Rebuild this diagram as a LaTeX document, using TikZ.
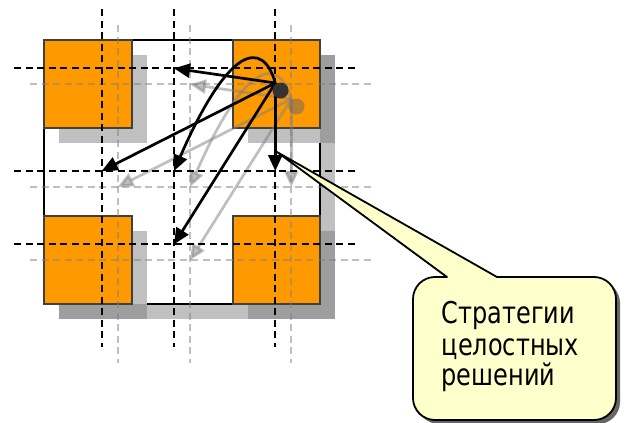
\documentclass[tikz,border=0pt]{standalone}
\usepackage{fontspec}
\usepackage{graphicx}
\newfontfamily\calfont{DejaVu Sans}
\usetikzlibrary{arrows.meta}
\definecolor{sqorange}{HTML}{FF9900}
\definecolor{sqedge}{HTML}{404040}
\definecolor{callfill}{HTML}{FFFFCC}
\definecolor{shlight}{HTML}{C0C0C0}
\definecolor{shdark}{HTML}{9E9E9E}
\tikzset{
  gridline/.style={line width=2pt, dash pattern=on 7pt off 4.5pt},
  conn/.style={line width=2.7pt, -{Triangle[length=16pt,width=14pt]}},
  sq/.style={fill=sqorange, draw=sqedge, line width=2pt, minimum width=87.5pt, minimum height=88pt, anchor=north west, inner sep=0pt},
  calltext/.style={anchor=base west, inner sep=0pt, font=\calfont\fontsize{24}{29}\selectfont},
}
\newcommand\callline[1]{\scalebox{1}[1.25]{#1}}
% #1 name prefix, #2 shift, #3 layer style, #4 dot colour
\newcommand\planlayer[4]{%
\begin{scope}[shift={(#2)}, #3]
  \coordinate (#1s) at (275.3,83);
  \coordinate (#1a) at (174,68.3);
  \coordinate (#1b) at (101.7,171);
  \coordinate (#1c) at (174,171);
  \coordinate (#1d) at (174,244.3);
  \coordinate (#1e) at (275.3,171);
  % dashed grid
  \foreach \gx in {101.7,174,275.3} \draw[gridline] (\gx,9) -- (\gx,347);
  \foreach \gy in {68.3,171,244.3} \draw[gridline] (14,\gy) -- (358,\gy);
  % arrows
  \draw[conn] (#1s) -- (#1a);
  \draw[conn] (#1s) -- (#1b);
  \draw[conn] (#1s) .. controls +(-13,-45) and +(54,-124) .. (#1c);
  \draw[conn] (#1s) -- (#1d);
  \draw[conn] (#1s) -- (#1e);
  \fill[#4] (280.5,90.5) circle[radius=8];
\end{scope}}
\begin{document}
\begin{tikzpicture}[x=1pt,y=-1pt]
\useasboundingbox (0,0) rectangle (627,423);
% frame and shadows
\fill[shlight] (59,55) rectangle (335,319);
\node[draw=black, fill=white, line width=1.6pt, minimum width=276pt, minimum height=264pt, anchor=north west, inner sep=0pt] (frame) at (43,39) {};
\fill[shlight] (59,55) rectangle (147,143);
\fill[shlight] (248,55) rectangle (335,143);
\fill[shlight] (59,231) rectangle (147,319);
\fill[shlight] (248,231) rectangle (335,319);
\fill[shdark] (319.8,55) rectangle (335,143);
\fill[shdark] (59,303.8) rectangle (147,319);
\fill[shdark] (319.8,231) rectangle (335,319);
\fill[shdark] (248,303.8) rectangle (319.8,319);
\node[sq] (tl) at (43,39) {};
\node[sq] (tr) at (231.7,39) {};
\node[sq] (bl) at (43,215) {};
\node[sq] (br) at (231.7,215) {};
% shadow copy and main layer
\planlayer{g}{16,16}{color=black!50, opacity=0.5}{black!60}
\planlayer{k}{0,0}{color=black}{black!80}
% callout
\coordinate (ctip) at (277,152);
\fill[black!60] (451,281) -- (ctip) -- (501,281) -- (598,281) arc[start angle=270, end angle=360, radius=22]
  -- (620,402) arc[start angle=0, end angle=90, radius=22]
  -- (439,424) arc[start angle=90, end angle=180, radius=22]
  -- (417,303) arc[start angle=180, end angle=270, radius=22] -- cycle;
\draw[fill=callfill, line width=1.8pt, line join=round] (447,277) -- (ctip) -- (497,277) -- (594,277) arc[start angle=270, end angle=360, radius=22]
  -- (616,398) arc[start angle=0, end angle=90, radius=22]
  -- (435,420) arc[start angle=90, end angle=180, radius=22]
  -- (413,299) arc[start angle=180, end angle=270, radius=22] -- cycle;
\node[calltext] (t1) at (441.5,323) {\callline{Стратегии}};
\node[calltext] (t2) at (441.5,355) {\callline{целостных}};
\node[calltext] (t3) at (441.5,385) {\callline{решений}};
\end{tikzpicture}
\end{document}
